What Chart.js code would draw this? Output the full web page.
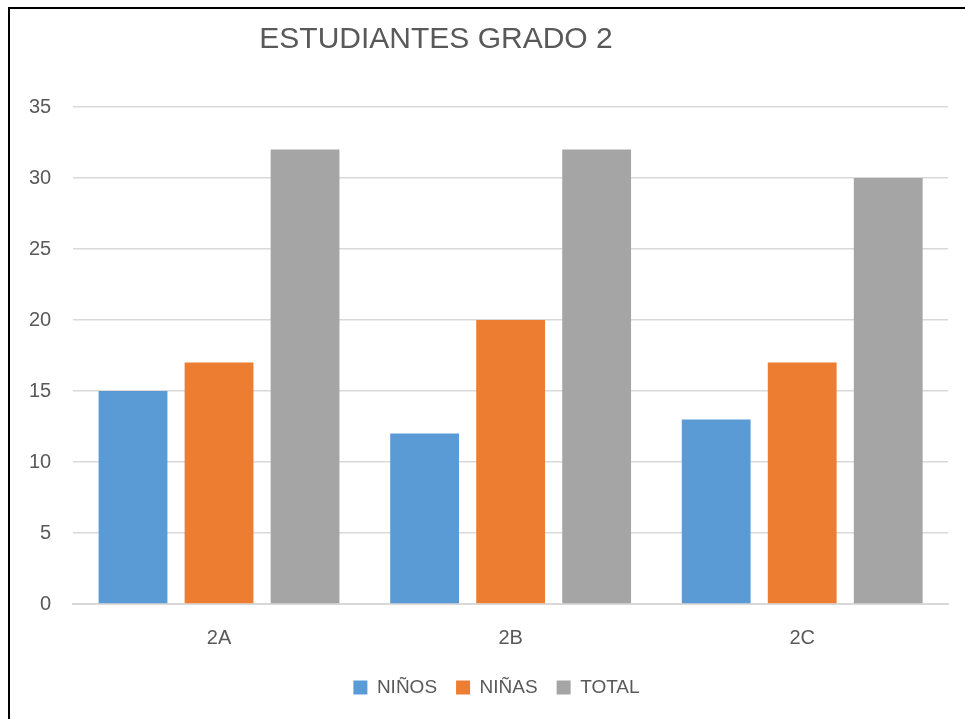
<!DOCTYPE html>
<html>
<head>
<meta charset="utf-8">
<script src="https://cdn.jsdelivr.net/npm/chart.js@4"></script>
<style>
  body { margin: 0; background: #fff; }
  #frame { position: absolute; left: 8px; top: 7px; width: 970px; height: 720px;
           border-left: 2px solid #000; border-top: 2px solid #000; }
  #wrap { position: absolute; left: 0; top: 0; width: 965px; height: 719px; }
</style>
</head>
<body>
<div id="frame"></div>
<div id="wrap"><canvas id="grado-chart"></canvas></div>
<script>
const chartTitle = 'ESTUDIANTES GRADO 2';
const categories = ['2A', '2B', '2C'];
const ninos = [15, 12, 13];
const ninas = [17, 20, 17];
const total = [32, 32, 30];
const yTicks = [0, 5, 10, 15, 20, 25, 30, 35];

const textColor = '#595959';
const fontFamily = '"Liberation Sans", sans-serif';

// titulo desplazado a la izquierda como en el original
const titlePlugin = {
  id: 'tituloFijo',
  afterLayout(chart) {
    // leyenda centrada en el area del grafico, no en el canvas
    chart.legend.left += 19;
    chart.legend.right += 19;
  },
  afterDraw(chart) {
    const ctx = chart.ctx;
    ctx.save();
    ctx.font = '30px ' + fontFamily;
    ctx.fillStyle = textColor;
    ctx.textAlign = 'center';
    ctx.textBaseline = 'middle';
    ctx.fillText(chartTitle, 436, 40);
    ctx.restore();
  }
};

new Chart(document.getElementById('grado-chart'), {
  type: 'bar',
  data: {
    labels: categories,
    datasets: [{
      label: 'NIÑOS',
      data: ninos,
      backgroundColor: '#5B9BD5'
    },
    {
      label: 'NIÑAS',
      data: ninas,
      backgroundColor: '#ED7D31'
    },
    {
      label: 'TOTAL',
      data: total,
      backgroundColor: '#A5A5A5'
    }]
  },
  options: {
    responsive: true,
    maintainAspectRatio: false,
    animation: false,
    datasets: {
      bar: {
        categoryPercentage: 0.885,
        barPercentage: 0.8
      }
    },
    layout: {
      padding: { top: 107, right: 17, left: 7, bottom: 12 }
    },
    plugins: {
      title: { display: false },
      tooltip: { enabled: false },
      legend: {
        position: 'bottom',
        labels: {
          boxWidth: 14,
          boxHeight: 14,
          padding: 19,
          color: textColor,
          font: { family: fontFamily, size: 19 }
        }
      }
    },
    scales: {
      x: {
        grid: { display: false, drawTicks: false },
        border: { color: '#d9d9d9', width: 2 },
        ticks: {
          color: textColor,
          padding: 22,
          font: { family: fontFamily, size: 20 }
        },
        afterFit(axis) {
          axis.height -= 13;
        }
      },
      y: {
        min: 0,
        max: 35,
        afterBuildTicks(axis) {
          axis.ticks = yTicks.map(v => ({ value: v }));
        },
        grid: { color: '#d9d9d9', lineWidth: 1.5, drawTicks: false },
        border: { display: false },
        ticks: {
          color: textColor,
          padding: 22,
          font: { family: fontFamily, size: 20 }
        }
      }
    }
  },
  plugins: [titlePlugin]
});
</script>
</body>
</html>
